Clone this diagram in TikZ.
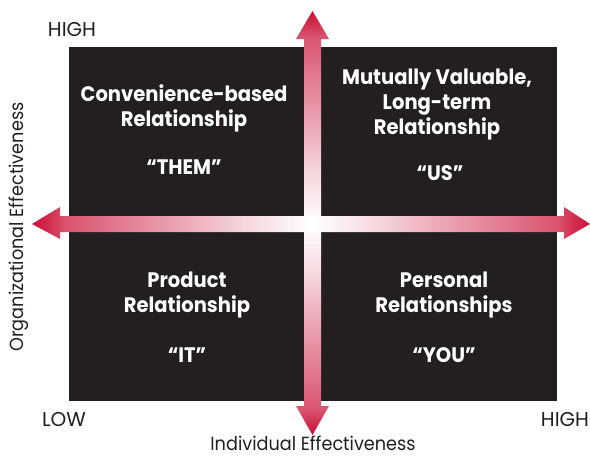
\documentclass[tikz,border=0pt]{standalone}
\usepackage{fontspec}
\setmainfont{Poppins}
\newfontfamily\quadfont[FakeStretch=0.93]{Poppins}
\newfontfamily\labelfont[FakeStretch=0.93]{Poppins}
\definecolor{quadblack}{HTML}{231F20}
\definecolor{arrowred}{HTML}{CC1138}
\definecolor{labelgray}{HTML}{231F20}
% fade from the red tip (left) to white (right); the path spans 25bp..75bp
\pgfdeclarehorizontalshading{axisfade}{100bp}{%
  color(0bp)=(arrowred); color(25bp)=(arrowred);
  color(28bp)=(arrowred!88!white); color(31bp)=(arrowred!72!white);
  color(50bp)=(arrowred!40!white); color(65bp)=(arrowred!14!white);
  color(75bp)=(white); color(100bp)=(white)}
\begin{document}
\begin{tikzpicture}[x=1pt,y=-1pt,
  quad/.style={fill=quadblack,draw=none},
  fade/.style={shading=axisfade,shading angle=#1},
  qtext/.style={text=white,font=\quadfont\bfseries\fontsize{21}{25}\selectfont,align=center,inner sep=0pt},
  axislabel/.style={text=labelgray,font=\labelfont\fontsize{19}{21}\selectfont,inner sep=0pt},
  endlabel/.style={text=labelgray,font=\fontsize{20}{22}\selectfont,inner sep=0pt},
]
\useasboundingbox (0,0) rectangle (590,456);

% quadrant field
\node[quad,minimum width=488,minimum height=354,anchor=north west,inner sep=0pt] (field) at (69,47) {};

% axis geometry
\coordinate (c) at (312.5,224);
\coordinate (top) at (312.5,11);
\coordinate (bot) at (312.5,435);
\coordinate (left) at (32,224);
\coordinate (right) at (590,224);

% vertical arrow, two halves shaded from the tip to the centre
\shade[fade=-90]
  (top) -- (329,39) -- (321,39) -- (321,224) -- (304,224) -- (304,39) -- (296,39) -- cycle;
\shade[fade=90]
  (304,224) -- (321,224) -- (321,406) -- (329,406) -- (bot) -- (296,406) -- (304,406) -- cycle;

% horizontal arrow
\shade[fade=0]
  (left) -- (60,207) -- (60,216) -- (312.5,216) -- (312.5,232) -- (60,232) -- (60,239) -- cycle;
\shade[fade=180]
  (312.5,216) -- (564,216) -- (564,207) -- (right) -- (564,239) -- (564,232) -- (312.5,232) -- cycle;

% quadrant texts
\node[qtext,anchor=north] (them) at (184,84) {Convenience-based\\Relationship};
\node[qtext] (themq) at (184,167) {“THEM”};
\node[qtext,anchor=north] (us) at (437,69) {Mutually Valuable,\\Long-term\\Relationship};
\node[qtext] (usq) at (440,173) {“US”};
\node[qtext,anchor=north] (it) at (187,272) {Product\\Relationship};
\node[qtext] (itq) at (187,355) {“IT”};
\node[qtext,anchor=north] (you) at (444,272) {Personal\\Relationships};
\node[qtext] (youq) at (444,355) {“YOU”};

% axis labels
\node[endlabel] (hightop) at (72,30) {HIGH};
\node[endlabel] (low) at (64,420) {LOW};
\node[endlabel] (highright) at (565,420) {HIGH};
\node[axislabel] (xlabel) at (313,443) {Individual Effectiveness};
\node[axislabel,rotate=90] (ylabel) at (19,227) {Organizational Effectiveness};
\end{tikzpicture}
\end{document}
